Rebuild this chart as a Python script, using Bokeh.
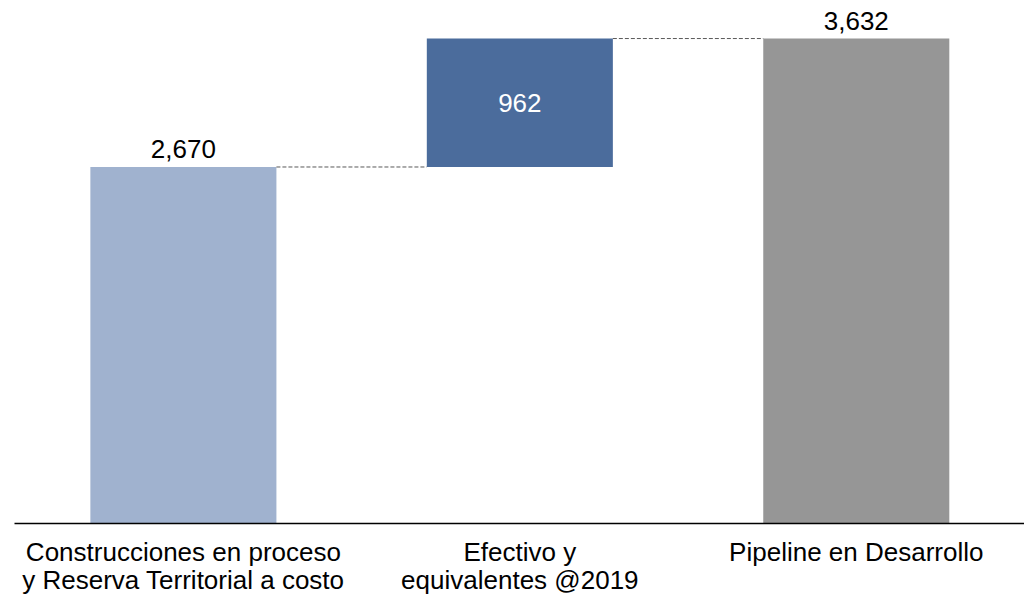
from bokeh.plotting import figure
from bokeh.models import Range1d, FixedTicker
from bokeh.core.properties import value
from bokeh.embed import file_html
from bokeh.resources import INLINE

categories = ["Construcciones en proceso\ny Reserva Territorial a costo",
              "Efectivo y\nequivalentes @2019",
              "Pipeline en Desarrollo"]
amounts = [2670, 962, 3632]
labels = ["2,670", "962", "3,632"]
colors = ["#A0B2CF", "#4B6C9C", "#969696"]

# waterfall geometry from data
bottoms = [0, amounts[0], 0]
tops = [amounts[0], amounts[0] + amounts[1], amounts[2]]
xs = list(range(len(categories)))
bw = 0.553

FONT = "Liberation Sans"

p = figure(frame_width=1010, frame_height=515, output_backend="svg", toolbar_location=None,
           x_range=Range1d(-0.502, 2.5), y_range=Range1d(0, 3857),
           min_border_left=14, min_border_right=0, min_border_top=8, min_border_bottom=60)

p.vbar(x=xs, bottom=bottoms, top=tops, width=bw, color=colors, line_color=None)

# connectors
cx0 = [xs[0] + bw / 2, xs[1] + bw / 2]
cx1 = [xs[1] - bw / 2, xs[2] - bw / 2]
cy = [tops[0], tops[1]]
p.segment(x0=cx0, y0=cy, x1=cx1, y1=cy, line_color="#595959", line_width=1, line_dash="4 2")

# value labels
p.text(x=[xs[0], xs[2]], y=[tops[0], tops[2]], text=[labels[0], labels[2]],
       text_align="center", text_baseline="bottom", y_offset=-9,
       text_font=value(FONT), text_font_size="26px", text_color="#000000")
p.text(x=[xs[1]], y=[(bottoms[1] + tops[1]) / 2], text=[labels[1]],
       text_align="center", text_baseline="middle",
       text_font=value(FONT), text_font_size="26px", text_color="#FFFFFF")

p.yaxis.visible = False
p.grid.visible = False
p.outline_line_color = None
p.background_fill_color = "white"
p.border_fill_color = "white"

ax = p.xaxis[0]
ax.ticker = FixedTicker(ticks=xs)
ax.major_label_overrides = {i: c for i, c in zip(xs, categories)}
ax.major_tick_line_color = None
ax.minor_tick_line_color = None
ax.axis_line_color = "#000000"
ax.axis_line_width = 1.5
ax.major_label_text_font = FONT
ax.major_label_text_font_size = "26px"
ax.major_label_text_line_height = 0.94
ax.major_label_text_color = "#000000"
ax.major_label_standoff = 7

open("out.html", "w").write(file_html(p, INLINE))
